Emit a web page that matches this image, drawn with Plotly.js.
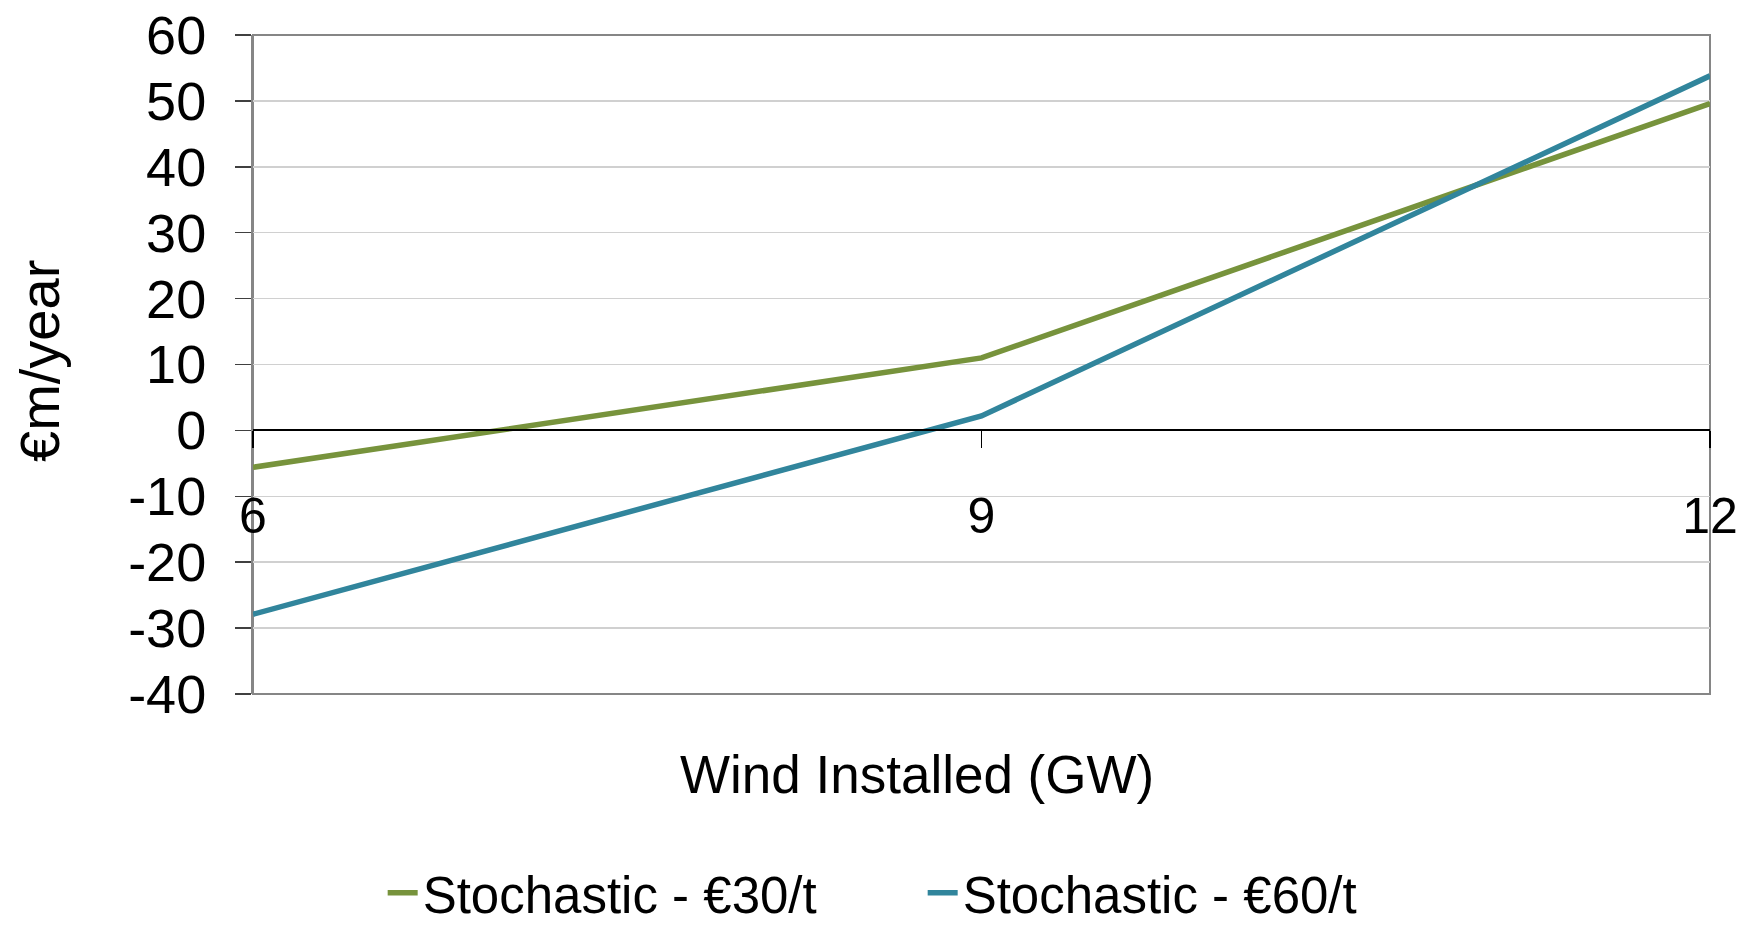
<!DOCTYPE html>
<html>
<head>
<meta charset="utf-8">
<script src="https://cdn.plot.ly/plotly-3.0.1.min.js"></script>
<style>html,body{margin:0;padding:0;background:#fff;}#chart{width:1749px;height:934px;}</style>
</head>
<body>
<div id="chart"></div>
<script>
// Data
const windGW = [6, 9, 12];
const stoch30 = [-5.6, 11.0, 49.6];
const stoch60 = [-27.9, 2.2, 53.8];
const seriesNames = ["Stochastic - €30/t", "Stochastic - €60/t"];
const xTicks = [6, 9, 12];
const yTicks = [-40, -30, -20, -10, 0, 10, 20, 30, 40, 50, 60];
const yTickText = ["-40", "-30", "-20", "-10", "0", "10", "20", "30", "40", "50", "60"];
const xTitle = "Wind Installed (GW)";
const yTitle = "€m/year";

const FONT = "Liberation Sans, Arial, sans-serif";

const traces = [
  {x: windGW, y: stoch30, name: seriesNames[0], type: "scatter", mode: "lines",
   line: {color: "#77933C", width: 5.5}},
  {x: windGW, y: stoch60, name: seriesNames[1], type: "scatter", mode: "lines",
   line: {color: "#31859C", width: 5.5}}
];

const layout = {
  width: 1749, height: 934,
  margin: {l: 253, r: 39, t: 35, b: 240, autoexpand: false},
  paper_bgcolor: "#fff", plot_bgcolor: "#fff",
  font: {family: FONT, color: "#000", size: 50},
  showlegend: true,
  legend: {orientation: "h", x: 0.089, xanchor: "left", y: (694 - 933) / 659, yanchor: "bottom",
           font: {family: FONT, size: 51, color: "#000"},
           entrywidth: 495, entrywidthmode: "pixels", tracegroupgap: 0},
  xaxis: {
    range: [6, 12], tickvals: xTicks, ticktext: xTicks.map(String),
    anchor: "free", position: 0.4,
    showgrid: false, zeroline: false,
    showline: true, linecolor: "#000", linewidth: 2,
    ticks: "outside", ticklen: 17, tickwidth: 1.5, tickcolor: "#000",
    ticklabelstandoff: 25,
    tickfont: {family: FONT, size: 50, color: "#000"}
  },
  yaxis: {
    range: [-40, 60], tickvals: yTicks, ticktext: yTickText,
    showgrid: true, gridcolor: "#D0D0D0", gridwidth: 1.5,
    zeroline: false,
    showline: true, linecolor: "#868686", linewidth: 2,
    ticks: "outside", ticklen: 16, tickwidth: 1.5, tickcolor: "#404040",
    ticklabelstandoff: 18,
    tickfont: {family: FONT, size: 54, color: "#000"}
  },
  annotations: [
    {text: xTitle, xref: "paper", yref: "paper",
     x: (917 - 253) / 1457, y: (694 - 774) / 659, xanchor: "center", yanchor: "middle",
     showarrow: false, font: {family: FONT, size: 53, color: "#000"}},
    {text: yTitle, xref: "paper", yref: "paper", textangle: -90,
     x: (39 - 253) / 1457, y: (694 - 361) / 659, xanchor: "center", yanchor: "middle",
     showarrow: false, font: {family: FONT, size: 56, color: "#000"}}
  ],
  shapes: [
    {type: "rect", xref: "paper", yref: "paper", x0: 0, x1: 1, y0: 0, y1: 1,
     line: {color: "#868686", width: 2}, layer: "below"}
  ]
};

Plotly.newPlot("chart", traces, layout, {displayModeBar: false, staticPlot: true});
</script>
</body>
</html>
